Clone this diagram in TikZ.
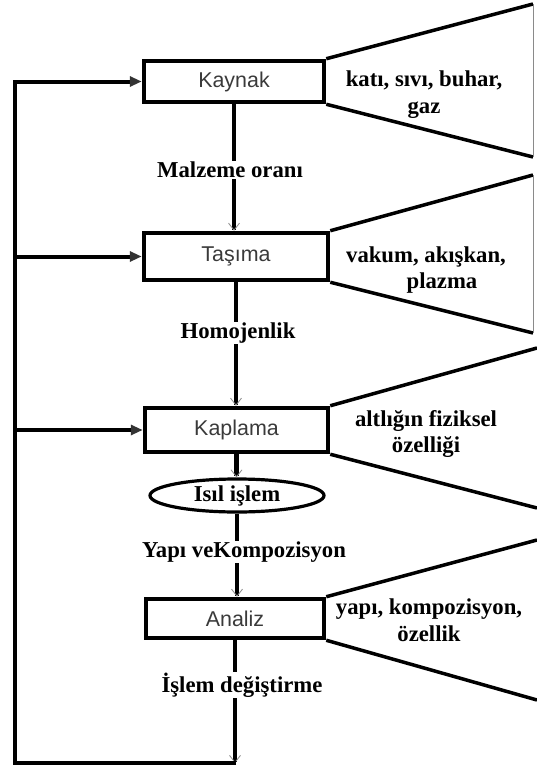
\documentclass[tikz,border=0pt]{standalone}
\usepackage{fontspec}
\setmainfont{Liberation Serif}
\setsansfont{Liberation Sans}
\usepackage{xcolor}
\usetikzlibrary{arrows.meta,positioning,shapes.geometric}
\definecolor{BoxText}{HTML}{3A3A3A}
\definecolor{TipGray}{HTML}{333333}
\definecolor{BarbGray}{HTML}{8A8A8A}

\begin{document}
\begin{tikzpicture}[
    x=1bp,y=-1bp,
    font=\rmfamily\bfseries\fontsize{22.8}{27}\selectfont,
    stage/.style={draw,line width=4.5bp,inner sep=0pt,
      font=\sffamily\mdseries\fontsize{21.5}{24}\selectfont,text=BoxText},
    heat/.style={ellipse,draw,line width=3.2bp,inner sep=0pt,
      minimum width=174bp,minimum height=33bp},
    flow/.style={line width=4.5bp,
      -{Straight Barb[length=7bp,width=11bp,line width=0.8bp,color=BarbGray]}},
    push/.style={line width=4bp,
      -{Triangle[length=12bp,width=10bp,color=TipGray]}},
    cone/.style={line width=3.5bp},
    rim/.style={line width=0.8bp,draw=BarbGray},
    tag/.style={fill=white,inner sep=1bp},
    prop/.style={align=center}
  ]
    \useasboundingbox (0,0) rectangle (537,769);

    % Process stages down the main axis.
    \node[stage,minimum width=180bp,minimum height=41bp] (kaynak) at (234,81.5)
      {Kaynak};
    \node[stage,minimum width=184bp,minimum height=47bp] (tasima) at (236,256.5)
      {Taşıma};
    \node[stage,minimum width=183bp,minimum height=44bp] (kaplama) at (236.5,430)
      {Kaplama};
    \node[heat] (isil) at (237,495.5) {Isıl işlem};
    \node[stage,minimum width=178bp,minimum height=39bp] (analiz) at (235,618.5)
      {Analiz};
    \coordinate (back) at (236,763);
    \coordinate (rail) at (15,763);

    \draw[flow] (kaynak.south) -- (kaynak.south |- tasima.north);
    \draw[flow] (tasima.south) -- (tasima.south |- kaplama.north);
    \draw[flow] (kaplama.south) -- (kaplama.south |- isil.north);
    \draw[flow] (isil.south) -- (isil.south |- analiz.north);
    \draw[flow] (analiz.south) -- (analiz.south |- back);

    \node[tag] (oran) at (230,170) {Malzeme oranı};
    \node[tag] (homojen) at (238,333) {Homojenlik};
    \node[tag] (yapi) at (244,552) {Yapı veKompozisyon};
    \node[tag] (degis) at (242,685) {İşlem değiştirme};

    % Feedback loop on the left.
    \draw[push] (back) -- (rail) |- (kaynak.west);
    \draw[push] (rail |- tasima.west) -- (tasima.west);
    \draw[push] (rail |- kaplama.west) -- (kaplama.west);

    % Parameter funnels on the right.
    \coordinate (k1) at (533,4);
    \coordinate (k2) at (533,157);
    \coordinate (t1) at (533,175);
    \coordinate (t2) at (533,333);
    \coordinate (p1) at (537,348);
    \coordinate (p2) at (537,508);
    \coordinate (a1) at (537,540);
    \coordinate (a2) at (537,700);
    \draw[cone] (kaynak.north east) -- (k1);
    \draw[cone] (kaynak.south east) -- (k2);
    \draw[rim] (k1) -- (k2);
    \draw[cone] (tasima.north east) -- (t1);
    \draw[cone] (tasima.south east) -- (t2);
    \draw[rim] (t1) -- (t2);
    \draw[cone] (kaplama.north east) -- (p1);
    \draw[cone] (kaplama.south east) -- (p2);
    \draw[cone] (analiz.north east) -- (a1);
    \draw[cone] (analiz.south east) -- (a2);

    \node[prop] (kaynakprop) at (424,95) {katı, sıvı, buhar,\\gaz};
    \node[prop] (tasimaprop) at (426,270) {vakum, akışkan,\\\hspace*{32bp}plazma};
    \node[prop] (kaplamaprop) at (426,434) {altlığın fiziksel\\özelliği};
    \node[prop] (analizprop) at (429,620) {yapı, kompozisyon,\\özellik};
\end{tikzpicture}
\end{document}
